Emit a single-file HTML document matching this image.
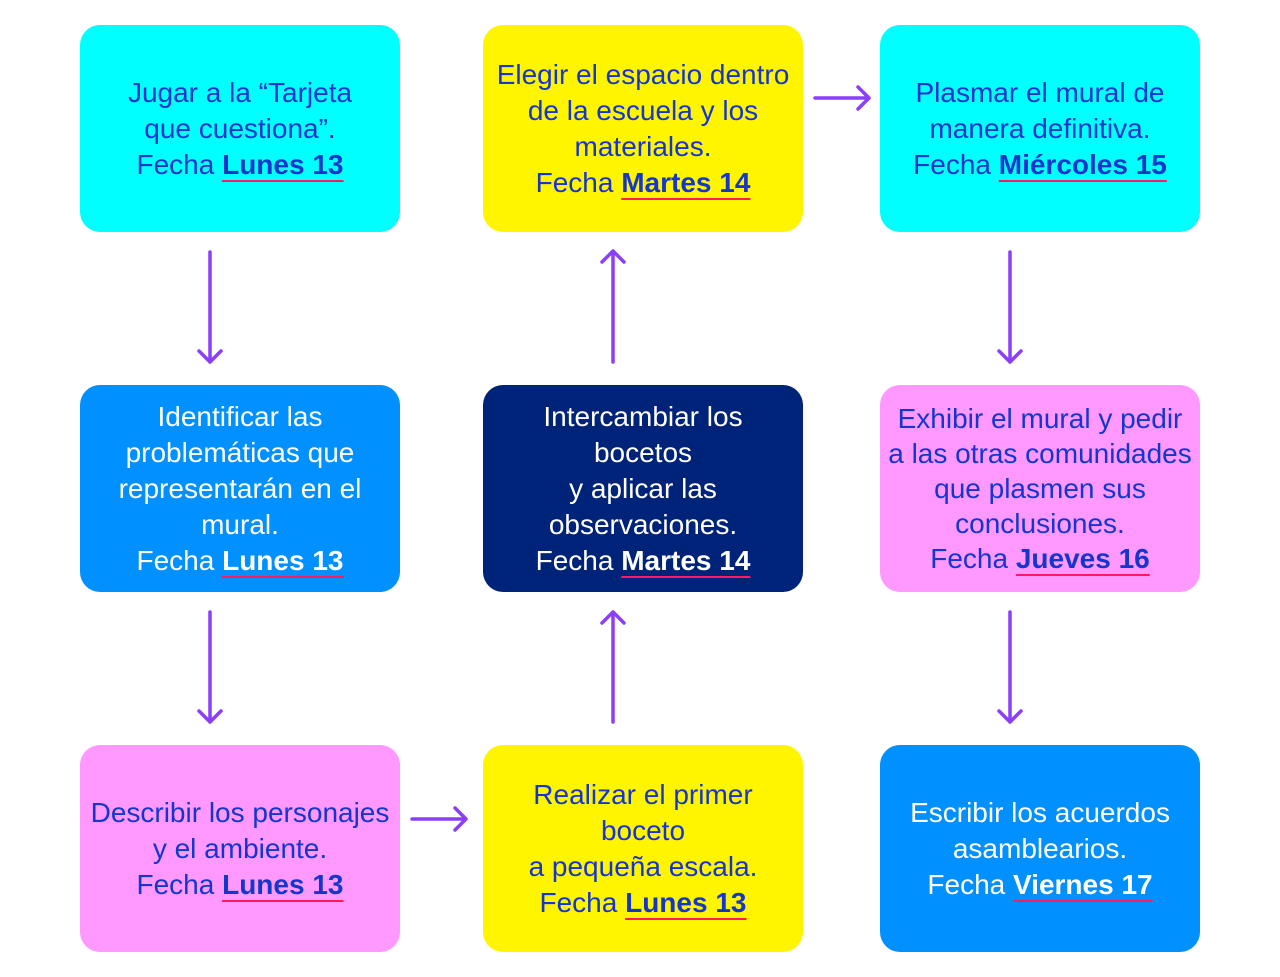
<!DOCTYPE html>
<html><head><meta charset="utf-8"><style>
body{margin:0;width:1280px;height:977px;background:#fff;position:relative;overflow:hidden;font-family:"Liberation Sans",sans-serif}
.b{position:absolute;width:320px;height:207px;border-radius:20px;display:flex;align-items:center;justify-content:center;text-align:center;font-size:28px;line-height:36px;color:#1436cc;white-space:nowrap}
.b>div{display:block}
.w{color:#fff}
u{text-decoration:underline;text-decoration-color:#ff1a5e;text-decoration-thickness:2px;text-underline-offset:6px;font-weight:bold}
.c{background:#00ffff}.y{background:#fff500}.bl{background:#0090ff}.n{background:#00237a}.p{background:#ff99ff}
svg{position:absolute;left:0;top:0}
</style></head><body>
<div class="b c" style="left:80px;top:25px"><div>Jugar a la “Tarjeta<br>que cuestiona”.<br>Fecha <u>Lunes 13 </u></div></div>
<div class="b y" style="left:483px;top:25px"><div>Elegir el espacio dentro<br>de la escuela y los<br>materiales.<br>Fecha <u>Martes 14 </u></div></div>
<div class="b c" style="left:880px;top:25px"><div>Plasmar el mural de<br>manera definitiva.<br>Fecha <u>Miércoles 15 </u></div></div>
<div class="b bl w" style="left:80px;top:385px"><div>Identificar las<br>problemáticas que<br>representarán en el<br>mural.<br>Fecha <u>Lunes 13 </u></div></div>
<div class="b n w" style="left:483px;top:385px"><div>Intercambiar los<br>bocetos<br>y aplicar las<br>observaciones.<br>Fecha <u>Martes 14 </u></div></div>
<div class="b p" style="left:880px;top:385px;line-height:35px"><div>Exhibir el mural y pedir<br>a las otras comunidades<br>que plasmen sus<br>conclusiones.<br>Fecha <u>Jueves 16 </u></div></div>
<div class="b p" style="left:80px;top:745px"><div>Describir los personajes<br>y el ambiente.<br>Fecha <u>Lunes 13 </u></div></div>
<div class="b y" style="left:483px;top:745px"><div>Realizar el primer<br>boceto<br>a pequeña escala.<br>Fecha <u>Lunes 13 </u></div></div>
<div class="b bl w" style="left:880px;top:745px"><div>Escribir los acuerdos<br>asamblearios.<br>Fecha <u>Viernes 17 </u></div></div>
<svg width="1280" height="977" fill="none" stroke="#8a3ffc" stroke-width="3.5" stroke-linecap="round" stroke-linejoin="round">
<path d="M210 252V362M199 351L210 362L221 351"/>
<path d="M210 612V722M199 711L210 722L221 711"/>
<path d="M1010 252V362M999 351L1010 362L1021 351"/>
<path d="M1010 612V722M999 711L1010 722L1021 711"/>
<path d="M613 362V251M602 262L613 251L624 262"/>
<path d="M613 722V612M602 623L613 612L624 623"/>
<path d="M815 98H869M858 87L869 98L858 109"/>
<path d="M412 819H466M455 808L466 819L455 830"/>
</svg>
</body></html>
